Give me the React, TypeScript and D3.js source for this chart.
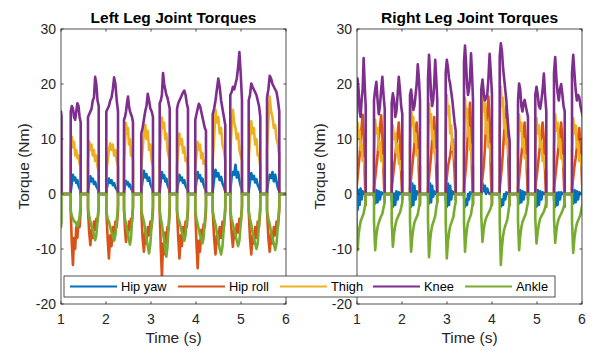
import React from 'react';
import * as d3 from 'd3';

const SERIES = ['Hip yaw', 'Hip roll', 'Thigh', 'Knee', 'Ankle'];
const COLORS = ['#0072BD', '#D95319', '#EDB120', '#7E2F8E', '#77AC30'];
const X_TICKS = [1, 2, 3, 4, 5, 6];
const Y_TICKS = [-20, -10, 0, 10, 20, 30];
const TITLES = ['Left Leg Joint Torques', 'Right Leg Joint Torques'];

// ---------- Left leg: stance phases (s) ----------
const LEFT_START = [1.0, 1.216, 1.6, 2.007, 2.4, 2.784, 3.193, 3.578, 3.984, 4.371, 4.762, 5.171, 5.578];
const LEFT_END = [1.012, 1.438, 1.838, 2.267, 2.6, 3.044, 3.416, 3.822, 4.222, 4.651, 5.022, 5.429, 5.851];

const LEFT_HIP_YAW = [
  [0.5, 0.3],
  [0.5, 2, 3.5, 2.5, 3, 2, 2.5, 1.5, 1, 0.5],
  [0.5, 2, 3.2, 2.3, 2.8, 1.8, 2.2, 1.4, 1, 0.5],
  [0.5, 1.8, 2.8, 2, 2.5, 1.6, 2, 1.2, 0.8, 0.4],
  [0.4, 1.5, 2.4, 1.8, 2.1, 1.4, 1.7, 1, 0.7, 0.3],
  [0.5, 2.5, 4.2, 3, 3.6, 2.4, 3, 1.8, 1.2, 0.5],
  [0.5, 2.4, 4, 2.9, 3.4, 2.3, 2.8, 1.7, 1.1, 0.5],
  [0.5, 2, 3.5, 2.5, 3, 2, 2.5, 1.5, 1, 0.5],
  [0.5, 2.4, 4, 2.9, 3.4, 2.3, 2.8, 1.7, 1.1, 0.5],
  [0.5, 2.6, 4.4, 3.2, 3.8, 2.5, 3.1, 1.9, 1.3, 0.5],
  [0.6, 3, 4, 3.5, 5.3, 3, 4, 2.5, 1.5, 0.6],
  [0.5, 2.3, 3.8, 2.7, 3.3, 2.1, 2.7, 1.6, 1.1, 0.5],
  [0.5, 2.4, 3.5, 2.9, 4, 2.3, 3.5, 2.2, 1.1, 0.5],
];
const LEFT_HIP_ROLL = [
  [4, 3],
  [-3, -9, -12.9, -8, -10, -6, -8, -5, -6, -3],
  [-3, -7, -9.3, -6.5, -8, -5, -6.5, -4.5, -5, -2.5],
  [-3, -8, -11.7, -7.5, -9.5, -6, -8, -5, -6, -3],
  [-2.5, -6.5, -8.7, -6, -7.5, -5, -6.5, -4.5, -5, -2.5],
  [-3, -8, -10.5, -7, -9, -6, -7.5, -5, -6, -3],
  [-3, -10, -15, -9, -11, -7, -9, -6, -6.5, -3],
  [-3, -8, -11.7, -7.5, -9.5, -6, -8, -5, -6, -3],
  [-3, -9, -13.5, -8.5, -10.5, -6.5, -8.5, -5.5, -6, -3],
  [-3, -8, -11, -7.5, -9, -6, -8, -5, -6, -3],
  [-3, -7, -9.6, -6.5, -8, -5.5, -7, -4.5, -5.5, -2.5],
  [-3, -8, -11, -7.5, -9, -6, -8, -5, -6, -3],
  [-3, -8, -10.5, -7, -9, -6, -7.5, -5, -6, -3],
];
const LEFT_THIGH = [
  [5, 4],
  [8, 10.4, 8.5, 9.5, 7, 8, 6.5, 7, 5.5, 5],
  [6, 9.5, 8, 9, 7, 8, 6, 7, 5, 4],
  [4, 6, 8, 9.2, 8, 9, 7, 8, 6, 5],
  [6, 9, 12.9, 11, 12, 9, 10, 7, 8, 6],
  [5, 8, 11, 12.6, 10, 11.5, 8, 9, 6, 5],
  [6, 10, 13.9, 12, 13, 10, 11, 8, 7, 6],
  [5, 8, 11, 9, 10, 7.5, 8.5, 6, 6.5, 5],
  [5, 7, 9.5, 8, 9, 6.5, 7.5, 5.5, 6, 5],
  [6, 10, 15.3, 13, 14, 11, 12, 9, 8, 6],
  [7, 12, 15.3, 13, 12, 10, 11, 8, 7, 6],
  [6, 10, 13.2, 11, 12, 9, 10, 7, 7, 5],
  [8, 13, 17.7, 15, 14, 12, 12.5, 10, 9, 7],
];
const LEFT_KNEE = [
  [15, 14],
  [15, 16, 15.5, 14, 13.5, 15, 16.5, 16, 14, 13],
  [14, 14.5, 15, 15.5, 17, 17.5, 21.3, 20, 17, 16],
  [15, 15.5, 16, 17, 17.5, 19, 21.2, 20, 17, 15],
  [13.5, 14, 15, 16.5, 17.7, 16, 15, 14.5, 14, 13],
  [11, 12, 13.5, 15, 16, 18.2, 17, 15.5, 15, 14],
  [16.5, 17, 18, 22, 20, 19, 18, 17.5, 16.5, 15.5],
  [15.5, 16.5, 17, 17.5, 18, 18.5, 18.8, 18, 16.5, 15.5],
  [13.5, 14.5, 15.5, 16.4, 16, 15, 14, 13, 12, 11.5],
  [14.5, 15.5, 17, 19, 21, 19.5, 17, 15.5, 14, 12.5],
  [18, 18.5, 19.5, 19, 20, 21, 23, 25.8, 22, 17],
  [17, 18, 20.1, 19.5, 19, 18.5, 18, 17, 16, 14],
  [17.5, 19, 21.5, 21, 20, 19.5, 19, 18.5, 17, 15],
];
const LEFT_ANKLE = [
  [-6, -5],
  [-3, -4, -4.5, -5, -5, -5.5, -5.9, -5.5, -4, -2],
  [-2.5, -4, -5, -6, -6.5, -7.5, -8.4, -7.5, -5, -2],
  [-3, -4.5, -5, -6, -7, -7.5, -8.5, -7.5, -5, -2],
  [-3, -4.5, -5.5, -6.5, -7.5, -8.5, -9.2, -8, -5, -2],
  [-3, -4, -5, -6.5, -8, -9.5, -10.8, -9, -5.5, -2],
  [-3, -4.5, -5.5, -7, -8.5, -10, -11.4, -9.5, -6, -2],
  [-3, -4.5, -5, -6, -7, -7.5, -8.5, -7.5, -5, -2],
  [-3, -4.5, -5.5, -6.5, -7.5, -8, -9, -8, -5, -2],
  [-3, -4.5, -5.5, -7, -8.5, -10, -11, -9.5, -6, -2],
  [-3, -4.5, -5.5, -6.5, -7.5, -8.5, -9.5, -8.5, -5.5, -2],
  [-3, -4.5, -5.5, -7, -8, -9, -10, -9, -5.5, -2],
  [-3, -4.5, -5.5, -7, -8, -9, -10.2, -9, -5.5, -2],
];

// ---------- Right leg: stance phases (s) ----------
const RIGHT_START = [0.99, 1.378, 1.771, 2.178, 2.578, 2.971, 3.378, 3.762, 4.171, 4.578, 4.962, 5.378, 5.778];
const RIGHT_END = [1.193, 1.616, 2.007, 2.4, 2.784, 3.193, 3.578, 4.0, 4.393, 4.8, 5.207, 5.616, 6.02];

const RIGHT_HIP_YAW = [
  [-1, -2.9, 0.7, -2, 1, -1, 0.5, 0, 0.3, 0],
  [-0.5, -1.7, 0.7, -1.5, 0.5, -1, 0.3, 0, 0.2, 0],
  [-1, -2.3, 0.1, -2, 0.5, -1, 0.3, 0, 0.2, 0],
  [-1, -2.3, 1.9, -2, 1.5, -1, 0.5, 0, 0.3, 0],
  [-0.5, -1.7, 1.9, -1.5, 1.5, -0.5, 0.5, 0, 0.3, 0],
  [-1, -2.3, 1.9, -2, 1.5, -1, 0.5, 0, 0.3, 0],
  [-0.5, -2.3, -1, -2, 0, -1, 0.3, 0, 0.2, 0],
  [0, 1.9, 0.5, 1.5, 0, 1, 0.3, 0, 0.2, 0],
  [-0.5, -2.3, -1, -2, 0, -1, 0.3, 0, 0.2, 0],
  [-0.5, -1.7, 0.7, -1.5, 0.5, -1, 0.3, 0, 0.2, 0],
  [-1, -2.3, 0.7, -2, 0.5, -1, 0.3, 0, 0.2, 0],
  [-1, -2.3, 0.2, -2, 0.3, -1, 0.3, 0, 0.2, 0],
  [-0.5, -1.7, 0.7, -1.5, 0.5, -1, 0.3, 0, 0.2, 0],
];
const RIGHT_HIP_ROLL = [
  [1, 3, 5, 7, 10, 12.2, 14.4, 10.8, 4, -2],
  [1, 3, 5, 7, 10, 12.2, 14.3, 10.7, 4, -1.5],
  [1, 3, 5, 7, 9, 11, 13, 9.8, 4, -1],
  [1, 3, 5, 7, 9, 11, 13, 9.8, 4, -2],
  [1, 3, 5, 7, 9.8, 12, 14, 10.5, 4, -1.5],
  [1, 3, 5, 6, 7, 8.5, 10, 7.5, 4, -1],
  [1, 3, 5, 8, 11.6, 14, 16.6, 12.5, 4, -2],
  [1, 3, 5, 8, 12.4, 15, 17.7, 13.3, 4, -2],
  [1, 3, 5, 8, 11.2, 13.6, 16, 12, 4, -2],
  [1, 3, 5, 7, 9, 11, 13, 9.8, 4, -1],
  [1, 3, 5, 7, 9, 11, 13, 9.8, 4, -2.3],
  [1, 3, 5, 7, 9, 11, 13, 9.8, 4, -2.3],
  [1, 3, 5, 6.5, 8.4, 10.2, 12, 9, 4, -2],
];
const RIGHT_THIGH = [
  [7, 13, 10.5, 11.5, 8, 9, 6, 6.5, 4.5, 4],
  [7.5, 13.5, 11, 12, 8, 9.5, 6, 7, 5, 4],
  [7, 12.5, 10, 11, 7.5, 9, 5.5, 6, 4.5, 4],
  [9, 15.9, 12.5, 14, 9.5, 11, 7, 8, 5.5, 5],
  [9, 16.4, 13, 14.5, 10, 11.5, 7.5, 8, 6, 5],
  [10, 18, 14.5, 16, 11, 12.5, 8, 9, 6.5, 5.5],
  [9.5, 17.5, 14, 15.5, 10.5, 12, 8, 9, 6, 5],
  [10, 18.4, 15, 16.5, 11, 13, 8.5, 9, 6.5, 5.5],
  [11, 19.6, 16, 17.5, 12, 13.5, 9, 10, 7, 6],
  [8, 14.4, 11.5, 13, 8.5, 10, 6.5, 7, 5, 4.5],
  [7.5, 13.8, 11, 12.5, 8.5, 9.5, 6, 7, 5, 4],
  [8, 14.5, 11.5, 13, 8.5, 10, 6.5, 7, 5, 4.5],
  [7.5, 13.8, 11, 12.5, 8.5, 9.5, 6, 7, 5, 4],
];
const RIGHT_KNEE = [
  [17.5, 21, 19, 15, 14, 17, 19, 24.7, 20, 16],
  [17, 19, 20.4, 17, 14.5, 16, 19, 21.3, 18, 15.5],
  [16.5, 18.3, 17, 14, 15, 18, 21.3, 19, 16, 14.5],
  [18, 19, 17, 15.3, 16, 18, 20, 23.6, 21, 17],
  [21, 25.3, 22, 18, 16, 17, 20, 24.4, 21, 17],
  [22, 24.4, 23, 21, 20, 18.5, 17, 15, 13, 11.5],
  [24, 27, 24, 20, 18, 19, 21, 25.6, 22, 17],
  [19, 20.8, 18.5, 17, 17.5, 18, 21, 25.5, 22, 18],
  [25, 27.4, 26, 23, 21, 19, 17, 14, 11.5, 9.5],
  [17, 20.1, 19, 16, 15, 16.5, 17.1, 16, 15, 14],
  [18, 19.5, 18, 16, 15.5, 17, 19, 21.9, 18, 15],
  [22, 24.9, 21, 18.5, 17, 19, 20, 18.2, 16, 15],
  [22, 25.3, 22, 19, 17, 18, 17.6, 16, 15, 14],
];
const RIGHT_ANKLE = [
  [-5, -10.2, -7.5, -6, -5, -4.5, -4, -3.5, -2.5, -1.5],
  [-5, -10.2, -7.5, -6, -5.2, -4.6, -4, -3.6, -2.5, -1.5],
  [-5, -9.6, -7.2, -5.8, -4.8, -4.3, -3.8, -3.4, -2.5, -1.5],
  [-5, -10.5, -7.9, -6.3, -5.2, -4.7, -4.2, -3.7, -2.5, -1.5],
  [-5, -11.5, -8.6, -6.9, -5.8, -5.2, -4.6, -4, -2.5, -1.5],
  [-5, -11.7, -8.8, -7, -5.9, -5.3, -4.7, -4.1, -2.5, -1.5],
  [-5, -10.5, -7.9, -6.3, -5.2, -4.7, -4.2, -3.7, -2.5, -1.5],
  [-4, -8.7, -6.5, -5.2, -4.4, -3.9, -3.5, -3, -2.5, -1.5],
  [-5, -12.9, -9.7, -7.7, -6.5, -5.8, -5.2, -4.5, -3, -1.5],
  [-5, -10.2, -7.6, -6.1, -5.1, -4.6, -4.1, -3.6, -2.5, -1.5],
  [-4.5, -9, -6.8, -5.4, -4.5, -4, -3.6, -3.2, -2.5, -1.5],
  [-4.5, -8.9, -6.7, -5.3, -4.5, -4, -3.6, -3.1, -2.5, -1.5],
  [-5, -10.7, -8, -6.4, -5.4, -4.8, -4.3, -3.7, -2.5, -1.5],
];

const LEFT_SERIES = [LEFT_HIP_YAW, LEFT_HIP_ROLL, LEFT_THIGH, LEFT_KNEE, LEFT_ANKLE];
const RIGHT_SERIES = [RIGHT_HIP_YAW, RIGHT_HIP_ROLL, RIGHT_THIGH, RIGHT_KNEE, RIGHT_ANKLE];

function buildPoints(starts: number[], ends: number[], stances: number[][]): [number, number][] {
  const pts: [number, number][] = [[0.9, 0]];
  stances.forEach((vals, i) => {
    const s = starts[i];
    const e = ends[i];
    pts.push([s, 0]);
    vals.forEach((v, k) => pts.push([s + ((e - s) * k) / (vals.length - 1), v]));
    pts.push([e, 0]);
  });
  pts.push([6.1, 0]);
  return pts;
}

const AX = '#262626';
const FONT = "'Liberation Sans', Arial, Helvetica, sans-serif";
const TOP = 29;
const BOTTOM = 304;

function Panel({ idx, left, right, starts, ends, series }: any) {
  const x = d3.scaleLinear().domain([1, 6]).range([left, right]);
  const y = d3.scaleLinear().domain([-20, 30]).range([BOTTOM, TOP]);
  const line = d3
    .line<[number, number]>()
    .x((d) => x(d[0]))
    .y((d) => y(d[1]));
  const clipId = `clip${idx}`;
  const tl = 2.6;
  return (
    <g>
      <defs>
        <clipPath id={clipId}>
          <rect x={left} y={TOP} width={right - left} height={BOTTOM - TOP} />
        </clipPath>
      </defs>
      <rect x={left} y={TOP} width={right - left} height={BOTTOM - TOP} fill="white" />
      <g clipPath={`url(#${clipId})`}>
        {series.map((s: number[][], i: number) => (
          <path
            key={i}
            d={line(buildPoints(starts, ends, s)) || ''}
            fill="none"
            stroke={COLORS[i]}
            strokeWidth={2.6}
            strokeLinejoin="round"
          />
        ))}
      </g>
      <rect x={left} y={TOP} width={right - left} height={BOTTOM - TOP} fill="none" stroke={AX} strokeWidth={0.8} />
      {X_TICKS.map((t) => (
        <g key={`x${t}`}>
          <line x1={x(t)} x2={x(t)} y1={BOTTOM} y2={BOTTOM - tl} stroke={AX} strokeWidth={0.8} />
          <line x1={x(t)} x2={x(t)} y1={TOP} y2={TOP + tl} stroke={AX} strokeWidth={0.8} />
          <text x={x(t)} y={324} textAnchor="middle" fontSize={14} fill={AX} fontFamily={FONT}>
            {t}
          </text>
        </g>
      ))}
      {Y_TICKS.map((t) => (
        <g key={`y${t}`}>
          <line x1={left} x2={left + tl} y1={y(t)} y2={y(t)} stroke={AX} strokeWidth={0.8} />
          <line x1={right} x2={right - tl} y1={y(t)} y2={y(t)} stroke={AX} strokeWidth={0.8} />
          <text x={left - 5} y={y(t) + 5} textAnchor="end" fontSize={14} fill={AX} fontFamily={FONT}>
            {t}
          </text>
        </g>
      ))}
      <text
        x={(left + right) / 2}
        y={22.5}
        textAnchor="middle"
        fontSize={15.5}
        fontWeight="bold"
        fill="#000"
        fontFamily={FONT}
      >
        {TITLES[idx]}
      </text>
      <text x={(left + right) / 2} y={343} textAnchor="middle" fontSize={15.5} fill={AX} fontFamily={FONT}>
        Time (s)
      </text>
      <text
        x={left - 32}
        y={(TOP + BOTTOM) / 2}
        textAnchor="middle"
        fontSize={15.5}
        fill={AX}
        fontFamily={FONT}
        transform={`rotate(-90, ${left - 32}, ${(TOP + BOTTOM) / 2})`}
      >
        Torque (Nm)
      </text>
    </g>
  );
}

const LEG_LINE_X = [70, 178, 280, 373, 465];

export default function App() {
  return (
    <svg
      width={592}
      height={352}
      style={{ position: 'absolute', left: 0, top: 0, background: 'white' }}
    >
      <rect x={0} y={0} width={592} height={352} fill="white" />
      <Panel idx={0} left={61} right={286} starts={LEFT_START} ends={LEFT_END} series={LEFT_SERIES} />
      <Panel idx={1} left={357} right={582} starts={RIGHT_START} ends={RIGHT_END} series={RIGHT_SERIES} />
      <g>
        <rect x={64} y={276} width={491} height={21} fill="white" stroke={AX} strokeWidth={0.8} />
        {SERIES.map((name, i) => (
          <g key={name}>
            <line
              x1={LEG_LINE_X[i]}
              x2={LEG_LINE_X[i] + 47}
              y1={286.5}
              y2={286.5}
              stroke={COLORS[i]}
              strokeWidth={2}
            />
            <text x={LEG_LINE_X[i] + 51} y={291} fontSize={12.8} fill="#000" fontFamily={FONT}>
              {name}
            </text>
          </g>
        ))}
      </g>
    </svg>
  );
}
